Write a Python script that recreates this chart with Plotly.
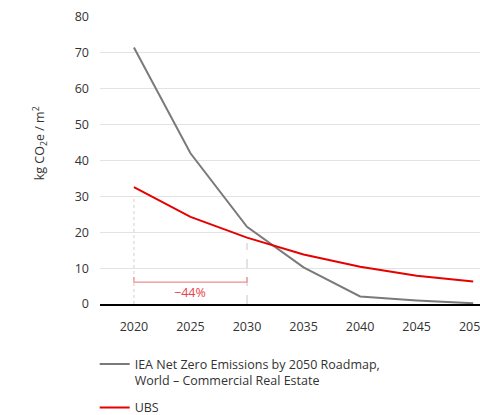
import plotly.graph_objects as go

years = [2020, 2025, 2030, 2035, 2040, 2045, 2050]
iea_values = [71.5, 42.0, 21.5, 10.2, 2.1, 1.0, 0.2]
ubs_values = [32.6, 24.3, 18.5, 13.8, 10.4, 7.9, 6.3]
iea_name = "IEA Net Zero Emissions by 2050 Roadmap,<br>World – Commercial Real Estate"
ubs_name = "UBS"
y_ticks = [0, 10, 20, 30, 40, 50, 60, 70, 80]
x_ticks = [2020, 2025, 2030, 2035, 2040, 2045, 2050]
bracket_start, bracket_end = 2020, 2030
bracket_level = 6.1
bracket_label = "−44%"

FONT = "Open Sans"
TXT = "#333333"

fig = go.Figure()
fig.add_trace(go.Scatter(x=years, y=iea_values, mode="lines", name=iea_name,
                         line=dict(color="#7a7a7a", width=2), legendgroup="a"))
fig.add_trace(go.Scatter(x=years, y=ubs_values, mode="lines", name=ubs_name,
                         line=dict(color="#e60000", width=2), legendgroup="b"))

# guide lines
fig.add_shape(type="line", x0=bracket_start, x1=bracket_start, y0=0, y1=ubs_values[0] - 3,
              line=dict(color="#d0d0d0", width=1, dash="dot"), layer="below")
fig.add_shape(type="line", x0=bracket_end, x1=bracket_end, y0=0, y1=ubs_values[2] - 1.5,
              line=dict(color="#c8c8c8", width=1, dash="dash"), layer="below")
# bracket
fig.add_shape(type="path",
              path=f"M {bracket_start},{bracket_level + 1.4} L {bracket_start},{bracket_level} "
                   f"L {bracket_end},{bracket_level} L {bracket_end},{bracket_level + 1.4}",
              line=dict(color="#f08c8c", width=1.2))
fig.add_annotation(x=(bracket_start + bracket_end) / 2, y=bracket_level - 2.9, text=bracket_label,
                   showarrow=False, font=dict(family=FONT, size=12.5, color="#e8434b"))

# y title
fig.add_annotation(xref="paper", yref="paper", x=-0.158, y=0.56, textangle=-90,
                   xanchor="center", yanchor="middle",
                   text="kg CO<sub>2</sub>e / m<sup>2</sup>", showarrow=False,
                   font=dict(family=FONT, size=12.5, color=TXT))

fig.update_layout(
    width=480, height=415,
    margin=dict(l=100, r=0, t=17, b=111, autoexpand=False),
    paper_bgcolor="white", plot_bgcolor="white",
    font=dict(family=FONT, size=12.5, color=TXT),
    showlegend=True,
    legend=dict(xref="container", yref="container", x=100 / 480 - 0.014 * 380 / 480, y=0.158,
                xanchor="left", yanchor="top", valign="top",
                tracegroupgap=8, font=dict(family=FONT, size=12.5, color=TXT),
                bgcolor="rgba(0,0,0,0)"),
    xaxis=dict(range=[2017.0, 2050.6], tickvals=x_ticks, showgrid=False, zeroline=False,
               showline=True, linecolor="#000000", linewidth=2, ticks="",
               ticklabelstandoff=10, ticklabeloverflow="allow", automargin=False, fixedrange=True),
    yaxis=dict(range=[0, 80], tickvals=y_ticks, showgrid=True, gridcolor="#e3e3e3",
               gridwidth=1, zeroline=False, showline=False, ticks="",
               ticklabelstandoff=10, automargin=False, fixedrange=True),
)

fig.write_html("out.html", config={"displayModeBar": False},
               post_script="document.body.style.margin='0px';document.body.style.overflow='hidden';")
